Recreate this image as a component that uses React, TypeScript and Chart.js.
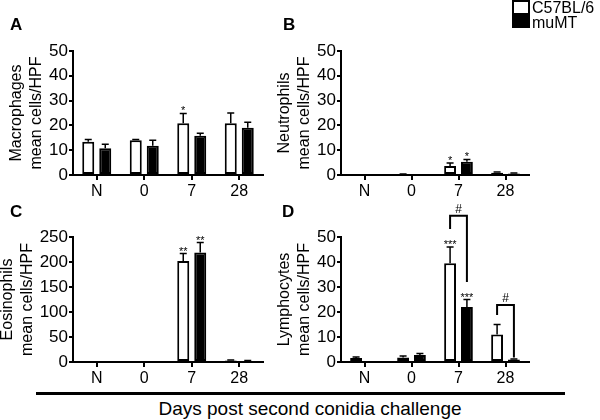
import React, { useEffect, useRef } from 'react';
import { Chart, registerables } from 'chart.js';

Chart.register(...registerables);

const FONT = '"Liberation Sans", Arial, Helvetica, sans-serif';
Chart.defaults.font.family = FONT;
Chart.defaults.color = '#000';

// ---------- data ----------
const categories = ['N', '0', '7', '28'];
const groupNames = ['C57BL/6', 'muMT'];
const xAxisCaption = 'Days post second conidia challenge';

// Panel A - Macrophages
const macroTitle = ['Macrophages', 'mean cells/HPF'];
const macroWT = [13.4, 14.0, 20.9, 20.9];
const macroWTErr = [14.3, 14.3, 24.8, 25.0];
const macroMu = [10.8, 11.8, 15.8, 19.1];
const macroMuErr = [12.4, 14.0, 16.8, 21.3];
const macroWTSig = ['', '', '*', ''];
const macroMuSig = ['', '', '', ''];
const macroMax = 50;
const macroStep = 10;

// Panel B - Neutrophils
const neutroTitle = ['Neutrophils', 'mean cells/HPF'];
const neutroWT = [0, 0.3, 3.6, 0.9];
const neutroWTErr = [0, 0.4, 4.8, 1.2];
const neutroMu = [0, 0, 5.3, 0.6];
const neutroMuErr = [0, 0, 6.3, 0.8];
const neutroWTSig = ['', '', '*', ''];
const neutroMuSig = ['', '', '*', ''];
const neutroMax = 50;
const neutroStep = 10;

// Panel C - Eosinophils
const eosTitle = ['Eosinophils', 'mean cells/HPF'];
const eosWT = [0, 0, 202, 3];
const eosWTErr = [0, 0, 217, 4];
const eosMu = [0, 0, 219, 2];
const eosMuErr = [0, 0, 239, 3];
const eosWTSig = ['', '', '**', ''];
const eosMuSig = ['', '', '**', ''];
const eosMax = 250;
const eosStep = 50;

// Panel D - Lymphocytes
const lymphoTitle = ['Lymphocytes', 'mean cells/HPF'];
const lymphoWT = [1.6, 1.8, 39.5, 11.0];
const lymphoWTErr = [2.0, 2.4, 46.0, 15.0];
const lymphoMu = [0.2, 2.8, 22.0, 1.0];
const lymphoMuErr = [0.2, 3.4, 25.0, 1.2];
const lymphoWTSig = ['', '', '***', ''];
const lymphoMuSig = ['', '', '***', ''];
const lymphoMax = 50;
const lymphoStep = 10;
// brackets (values in data units): category index, bracket top, left leg end, right leg end
const lymphoBrackets = [
  { cat: 2, top: 58.5, leftEnd: 53.2, rightEnd: 32.0, label: '#' },
  { cat: 3, top: 22.8, leftEnd: 18.8, rightEnd: 1.8, label: '#' },
];

type Bracket = { cat: number; top: number; leftEnd: number; rightEnd: number; label: string };

type PanelProps = {
  left: number;
  top: number;
  width: number;
  height: number;
  padTop: number;
  padRight: number;
  title: string[];
  titlePad: number;
  yMax: number;
  yStep: number;
  wt: number[];
  wtErr: number[];
  mu: number[];
  muErr: number[];
  wtSig: string[];
  muSig: string[];
  brackets?: Bracket[];
};

function Panel(p: PanelProps) {
  const ref = useRef<HTMLCanvasElement>(null);

  useEffect(() => {
    if (!ref.current) return;
    const errs = [p.wtErr, p.muErr];
    const sigs = [p.wtSig, p.muSig];
    const brackets = p.brackets || [];

    const errPlugin = {
      id: 'errbars',
      afterDatasetsDraw(chart: any) {
        const ctx = chart.ctx;
        const y = chart.scales.y;
        ctx.save();
        ctx.strokeStyle = '#000';
        ctx.fillStyle = '#000';
        ctx.lineWidth = 1.5;
        chart.data.datasets.forEach((ds: any, di: number) => {
          const meta = chart.getDatasetMeta(di);
          meta.data.forEach((bar: any, i: number) => {
            const v = ds.data[i];
            const e = errs[di][i];
            const yBase = y.getPixelForValue(v);
            const yTop = y.getPixelForValue(e);
            if (e > v) {
              ctx.beginPath();
              ctx.moveTo(bar.x, yBase);
              ctx.lineTo(bar.x, yTop);
              ctx.moveTo(bar.x - 3.5, yTop);
              ctx.lineTo(bar.x + 3.5, yTop);
              ctx.stroke();
            }
            const s = sigs[di][i];
            if (s) {
              ctx.font = `11px ${FONT}`;
              ctx.textAlign = 'center';
              ctx.textBaseline = 'alphabetic';
              ctx.fillText(s, bar.x, yTop + 1);
            }
          });
        });
        ctx.lineWidth = 2;
        brackets.forEach((b) => {
          const x1 = chart.getDatasetMeta(0).data[b.cat].x;
          const x2 = chart.getDatasetMeta(1).data[b.cat].x;
          const yt = y.getPixelForValue(b.top);
          const yl = y.getPixelForValue(b.leftEnd);
          const yr = y.getPixelForValue(b.rightEnd);
          ctx.beginPath();
          ctx.moveTo(x1, yl);
          ctx.lineTo(x1, yt);
          ctx.lineTo(x2, yt);
          ctx.lineTo(x2, yr);
          ctx.stroke();
          ctx.font = `12px ${FONT}`;
          ctx.textAlign = 'center';
          ctx.textBaseline = 'alphabetic';
          ctx.fillText(b.label, (x1 + x2) / 2, yt - 3);
        });
        ctx.restore();
      },
    };

    const chart = new Chart(ref.current, {
      type: 'bar',
      data: {
        labels: categories,
        datasets: [
          {
            label: groupNames[0],
            data: p.wt,
            backgroundColor: '#fff',
            borderColor: '#000',
            borderWidth: 2,
            borderSkipped: false,
            categoryPercentage: 0.716,
            barPercentage: 0.706,
          },
          {
            label: groupNames[1],
            data: p.mu,
            backgroundColor: '#000',
            borderColor: '#000',
            borderWidth: 2,
            borderSkipped: false,
            categoryPercentage: 0.716,
            barPercentage: 0.706,
          },
        ],
      },
      options: {
        responsive: false,
        animation: false,
        devicePixelRatio: 1,
        layout: { padding: { top: p.padTop, right: p.padRight, left: 0, bottom: 0 } },
        plugins: { legend: { display: false }, tooltip: { enabled: false } },
        scales: {
          x: {
            offset: true,
            z: 1,
            grid: {
              drawOnChartArea: false,
              offset: false,
              tickLength: 5,
              color: '#000',
              lineWidth: 2,
            },
            border: { display: true, color: '#000', width: 2 },
            ticks: { font: { size: 16 }, color: '#000', padding: 2, maxRotation: 0 },
            afterFit: (s: any) => {
              s.height = 25;
            },
          },
          y: {
            min: 0,
            max: p.yMax,
            z: 1,
            grid: { drawOnChartArea: false, tickLength: 4, color: '#000', lineWidth: 2 },
            border: { display: true, color: '#000', width: 2 },
            ticks: { stepSize: p.yStep, font: { size: 17 }, color: '#000', padding: 1 },
            title: {
              display: true,
              text: p.title,
              color: '#000',
              font: { size: 16, lineHeight: 1.25 },
              padding: { top: p.titlePad, bottom: 0 },
            },
            afterFit: (s: any) => {
              s.width = 73;
            },
          },
        },
      },
      plugins: [errPlugin],
    } as any);
    return () => chart.destroy();
  }, []);

  return (
    <canvas
      ref={ref}
      width={p.width}
      height={p.height}
      style={{ position: 'absolute', left: p.left, top: p.top, width: p.width, height: p.height, display: 'block' }}
    />
  );
}

const letterStyle = (left: number, top: number): React.CSSProperties => ({
  position: 'absolute',
  left,
  top,
  fontFamily: FONT,
  fontWeight: 'bold',
  fontSize: 17,
  lineHeight: '17px',
  color: '#000',
});

const legendText = (top: number): React.CSSProperties => ({
  position: 'absolute',
  left: 532,
  top,
  fontSize: 16,
  lineHeight: '16px',
  color: '#000',
  whiteSpace: 'nowrap',
});

export default function App() {
  return (
    <div
      style={{
        position: 'fixed',
        left: 0,
        top: 0,
        width: 600,
        height: 420,
        background: '#fff',
        overflow: 'hidden',
        fontFamily: FONT,
      }}
    >
      <Panel
        left={0}
        top={0}
        width={268}
        height={200}
        padTop={51}
        padRight={5}
        title={macroTitle}
        titlePad={7}
        yMax={macroMax}
        yStep={macroStep}
        wt={macroWT}
        wtErr={macroWTErr}
        mu={macroMu}
        muErr={macroMuErr}
        wtSig={macroWTSig}
        muSig={macroMuSig}
      />
      <Panel
        left={268}
        top={0}
        width={300}
        height={200}
        padTop={51}
        padRight={39}
        title={neutroTitle}
        titlePad={7}
        yMax={neutroMax}
        yStep={neutroStep}
        wt={neutroWT}
        wtErr={neutroWTErr}
        mu={neutroMu}
        muErr={neutroMuErr}
        wtSig={neutroWTSig}
        muSig={neutroMuSig}
      />
      <Panel
        left={0}
        top={200}
        width={268}
        height={187}
        padTop={37}
        padRight={5}
        title={eosTitle}
        titlePad={-2}
        yMax={eosMax}
        yStep={eosStep}
        wt={eosWT}
        wtErr={eosWTErr}
        mu={eosMu}
        muErr={eosMuErr}
        wtSig={eosWTSig}
        muSig={eosMuSig}
      />
      <Panel
        left={268}
        top={200}
        width={300}
        height={187}
        padTop={37}
        padRight={39}
        title={lymphoTitle}
        titlePad={7}
        yMax={lymphoMax}
        yStep={lymphoStep}
        wt={lymphoWT}
        wtErr={lymphoWTErr}
        mu={lymphoMu}
        muErr={lymphoMuErr}
        wtSig={lymphoWTSig}
        muSig={lymphoMuSig}
        brackets={lymphoBrackets}
      />

      <div style={letterStyle(10, 15.5)}>A</div>
      <div style={letterStyle(283, 15.5)}>B</div>
      <div style={letterStyle(10, 202.5)}>C</div>
      <div style={letterStyle(282, 202.5)}>D</div>

      {/* legend */}
      <div
        style={{
          position: 'absolute',
          left: 512,
          top: 0,
          width: 18,
          height: 15,
          boxSizing: 'border-box',
          border: '2px solid #000',
          background: '#fff',
        }}
      />
      <div style={{ position: 'absolute', left: 512, top: 14, width: 18, height: 14, background: '#000' }} />
      <div style={legendText(0)}>{groupNames[0]}</div>
      <div style={legendText(14.5)}>{groupNames[1]}</div>

      {/* shared x caption */}
      <div style={{ position: 'absolute', left: 36, top: 392, width: 529, height: 2.5, background: '#000' }} />
      <div
        style={{
          position: 'absolute',
          left: 310,
          top: 399,
          transform: 'translateX(-50%)',
          fontSize: 19,
          lineHeight: '19px',
          color: '#000',
          whiteSpace: 'nowrap',
        }}
      >
        {xAxisCaption}
      </div>
    </div>
  );
}
